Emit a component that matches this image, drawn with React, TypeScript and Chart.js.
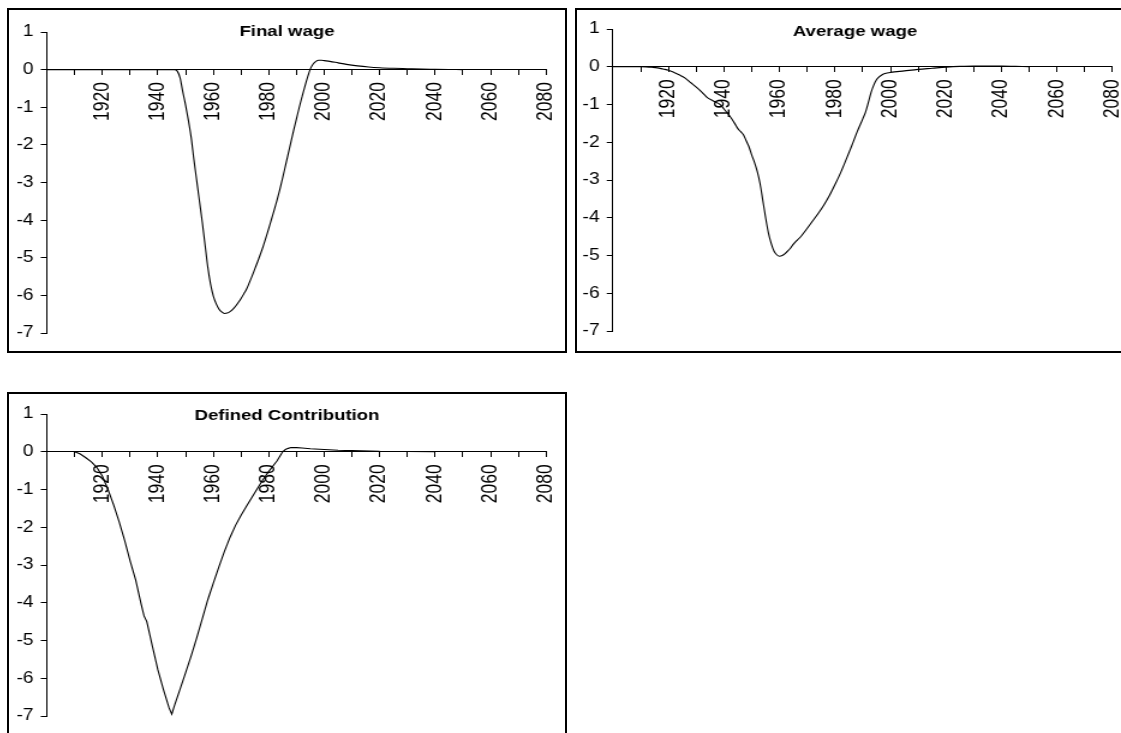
import React, { useEffect, useRef } from 'react';
import { Chart, registerables } from 'chart.js';

Chart.register(...registerables);

// ---------- data ----------
const finalWageYears = [
  1900, 1910, 1920, 1930, 1940, 1945, 1946, 1947, 1948, 1949, 1950, 1951, 1952, 1953, 1954, 1955, 1956, 1957,
  1958, 1959, 1960, 1961, 1962, 1963, 1964, 1965, 1966, 1967, 1968, 1969, 1970, 1971, 1972, 1973, 1974, 1975,
  1976, 1977, 1978, 1979, 1980, 1981, 1982, 1983, 1984, 1985, 1986, 1987, 1988, 1989, 1990, 1991, 1992, 1993,
  1994, 1995, 1996, 1997, 1998, 1999, 2000, 2002, 2005, 2008, 2012, 2016, 2020, 2025, 2030, 2035, 2040, 2045, 2050,
];
const finalWageValues = [
  0, 0, 0, 0, 0, 0, 0, -0.04, -0.22, -0.6, -0.95, -1.35, -1.8, -2.4, -2.95, -3.5, -4.05, -4.65,
  -5.25, -5.7, -6.02, -6.22, -6.36, -6.44, -6.48, -6.47, -6.43, -6.37, -6.29, -6.19, -6.08, -5.96, -5.83, -5.66, -5.48, -5.29,
  -5.1, -4.9, -4.69, -4.46, -4.22, -3.97, -3.72, -3.46, -3.18, -2.88, -2.56, -2.24, -1.92, -1.6, -1.3, -1.0, -0.72, -0.45,
  -0.2, 0.02, 0.15, 0.22, 0.25, 0.25, 0.24, 0.22, 0.18, 0.14, 0.1, 0.07, 0.05, 0.035, 0.025, 0.015, 0.01, 0.005, 0,
];

const averageWageYears = [
  1900, 1905, 1910, 1912, 1914, 1916, 1918, 1920, 1922, 1924, 1926, 1928, 1930, 1932, 1934, 1936, 1937, 1938, 1939,
  1940, 1942, 1944, 1945, 1946, 1947, 1948, 1949, 1950, 1951, 1952, 1953, 1954, 1955, 1956, 1957, 1958, 1959, 1960,
  1961, 1962, 1963, 1964, 1965, 1966, 1967, 1968, 1970, 1972, 1974, 1976, 1978, 1980, 1982, 1984, 1986, 1988, 1990,
  1991, 1992, 1993, 1994, 1995, 1996, 1997, 1998, 2000, 2005, 2010, 2015, 2020, 2025, 2030, 2035, 2040, 2045, 2050,
];
const averageWageValues = [
  0, 0, 0, -0.005, -0.015, -0.03, -0.06, -0.09, -0.15, -0.22, -0.3, -0.42, -0.54, -0.67, -0.82, -0.9, -0.94, -0.97, -1.03,
  -1.12, -1.3, -1.52, -1.64, -1.72, -1.8, -1.96, -2.12, -2.34, -2.54, -2.78, -3.1, -3.55, -4.0, -4.4, -4.68, -4.88, -4.98, -5.02,
  -5.0, -4.95, -4.88, -4.8, -4.7, -4.62, -4.55, -4.47, -4.28, -4.08, -3.88, -3.66, -3.41, -3.12, -2.81, -2.46, -2.1, -1.72, -1.38,
  -1.2, -0.95, -0.68, -0.48, -0.34, -0.26, -0.21, -0.18, -0.15, -0.11, -0.07, -0.04, -0.01, 0.01, 0.02, 0.02, 0.02, 0.01, 0,
];

const definedContributionYears = [
  1910, 1912, 1914, 1916, 1918, 1920, 1922, 1924, 1926, 1928, 1930, 1932, 1934, 1935, 1936, 1938, 1940, 1942, 1944,
  1945, 1946, 1948, 1950, 1952, 1954, 1956, 1958, 1960, 1962, 1964, 1966, 1968, 1970, 1972, 1974, 1976, 1978, 1980,
  1982, 1983, 1984, 1985, 1986, 1987, 1988, 1990, 1992, 1995, 2000, 2005, 2010, 2020, 2030, 2040,
];
const definedContributionValues = [
  0, -0.06, -0.16, -0.27, -0.42, -0.65, -1.0, -1.4, -1.85, -2.35, -2.9, -3.4, -4.05, -4.35, -4.5, -5.15, -5.78, -6.3, -6.78,
  -6.95, -6.72, -6.29, -5.85, -5.41, -4.93, -4.43, -3.92, -3.48, -3.05, -2.64, -2.27, -1.95, -1.68, -1.44, -1.2, -0.96, -0.73, -0.52,
  -0.33, -0.24, -0.12, 0.0, 0.06, 0.09, 0.11, 0.11, 0.1, 0.08, 0.06, 0.04, 0.03, 0.01, 0.005, 0,
];

const xLabelYears = [1920, 1940, 1960, 1980, 2000, 2020, 2040, 2060, 2080];
const yTickValues = [1, 0, -1, -2, -3, -4, -5, -6, -7];

// ---------- layout ----------
const FONT = "'Liberation Sans', Arial, Helvetica, sans-serif";
const PANEL_W = 560;
const PANEL_H = 345;
const BORDER = 2;
const INNER_W = PANEL_W - 2 * BORDER;
const INNER_H = PANEL_H - 2 * BORDER;
const STRETCH = 1.2;
const CANVAS_W = Math.round(INNER_W / STRETCH);

type Area = { left: number; right: number; top: number; bottom: number };

function Panel(props: {
  left: number;
  top: number;
  title: string;
  years: number[];
  values: number[];
  area: Area;
  smooth: boolean;
}) {
  const ref = useRef<HTMLCanvasElement>(null);
  const { left, top, title, years, values, area, smooth } = props;

  useEffect(() => {
    if (!ref.current) return;
    const sx = INNER_W / CANVAS_W;
    const aLeft = area.left / sx;
    const aRight = area.right / sx;
    const padR = CANVAS_W - aRight;
    const titleCenter = 22;
    const titleSize = 15.5;
    const titleLH = titleSize * 1.2;

    const chart = new Chart(ref.current, {
      type: 'line',
      data: {
        datasets: [
          {
            data: years.map((x, i) => ({ x, y: values[i] })),
            borderColor: '#000',
            borderWidth: 1.1,
            pointRadius: 0,
            tension: 0,
            cubicInterpolationMode: smooth ? 'monotone' : 'default',
            fill: false,
            yAxisID: 'y',
          },
        ],
      },
      options: {
        responsive: false,
        animation: false,
        devicePixelRatio: 1,
        events: [],
        layout: {
          autoPadding: false,
          padding: { left: 0, right: 0, top: 0, bottom: INNER_H - area.bottom },
        },
        plugins: {
          legend: { display: false },
          tooltip: { enabled: false },
          title: {
            display: true,
            text: title,
            color: '#000',
            font: { size: titleSize, weight: 'bold', family: FONT },
            padding: { top: titleCenter - titleLH / 2, bottom: area.top - titleCenter - titleLH / 2 },
          },
        },
        scales: {
          x: {
            type: 'linear',
            position: { y: 0 },
            min: 1900,
            max: 2080,
            ticks: {
              stepSize: 10,
              maxTicksLimit: 100,
              autoSkip: false,
              minRotation: 90,
              maxRotation: 90,
              padding: 7.5,
              color: '#000',
              font: { size: 17.5, family: FONT },
              callback: (v: any) => (xLabelYears.includes(Number(v)) ? String(v) : ''),
            },
            grid: { drawOnChartArea: false, drawTicks: true, tickLength: 5, color: '#000', lineWidth: 1 },
            border: { display: true, color: '#000', width: 1 },
            afterFit: (s: any) => {
              s.paddingLeft = 0;
              s.paddingRight = 0;
              s.paddingTop = 0;
              s.paddingBottom = 0;
            },
          },
          y: {
            type: 'linear',
            position: 'left',
            min: -7,
            max: 1,
            afterBuildTicks: (s: any) => {
              s.ticks = yTickValues.map((v) => ({ value: v }));
            },
            ticks: {
              padding: 6,
              color: '#000',
              font: { size: 16, family: FONT },
              callback: (v: any) => String(v),
            },
            grid: { drawOnChartArea: false, drawTicks: true, tickLength: 5.2, color: '#000', lineWidth: 1 },
            border: { display: true, color: '#000', width: 1 },
            afterFit: (s: any) => {
              s.width = aLeft;
              s.paddingTop = 0;
              s.paddingBottom = 0;
            },
          },
          // empty right-hand spacer so the plot ends where the reference's axis ends
          yRight: {
            type: 'linear',
            position: 'right',
            display: true,
            ticks: { display: false },
            grid: { display: false, drawTicks: false },
            border: { display: false },
            afterFit: (s: any) => {
              s.width = padR;
              s.paddingTop = 0;
              s.paddingBottom = 0;
            },
          },
        },
      },
    } as any);
    return () => chart.destroy();
  }, []);

  return (
    <div
      style={{
        position: 'absolute',
        left,
        top,
        width: PANEL_W,
        height: PANEL_H,
        border: `${BORDER}px solid #000`,
        boxSizing: 'border-box',
        background: '#fff',
      }}
    >
      <canvas
        ref={ref}
        width={CANVAS_W}
        height={INNER_H}
        style={{ display: 'block', width: INNER_W, height: INNER_H }}
      />
    </div>
  );
}

export default function App() {
  return (
    <div
      style={{
        position: 'fixed',
        left: 0,
        top: 0,
        width: 1121,
        height: 733,
        overflow: 'hidden',
        background: '#fff',
      }}
    >
      <Panel
        left={7}
        top={8}
        title="Final wage"
        years={finalWageYears}
        values={finalWageValues}
        area={{ left: 38, right: 537, top: 22, bottom: 323 }}
        smooth={true}
      />
      <Panel
        left={575}
        top={8}
        title="Average wage"
        years={averageWageYears}
        values={averageWageValues}
        area={{ left: 36, right: 535.5, top: 19, bottom: 321 }}
        smooth={true}
      />
      <Panel
        left={7}
        top={392}
        title="Defined Contribution"
        years={definedContributionYears}
        values={definedContributionValues}
        area={{ left: 38, right: 537, top: 20, bottom: 322 }}
        smooth={false}
      />
    </div>
  );
}
